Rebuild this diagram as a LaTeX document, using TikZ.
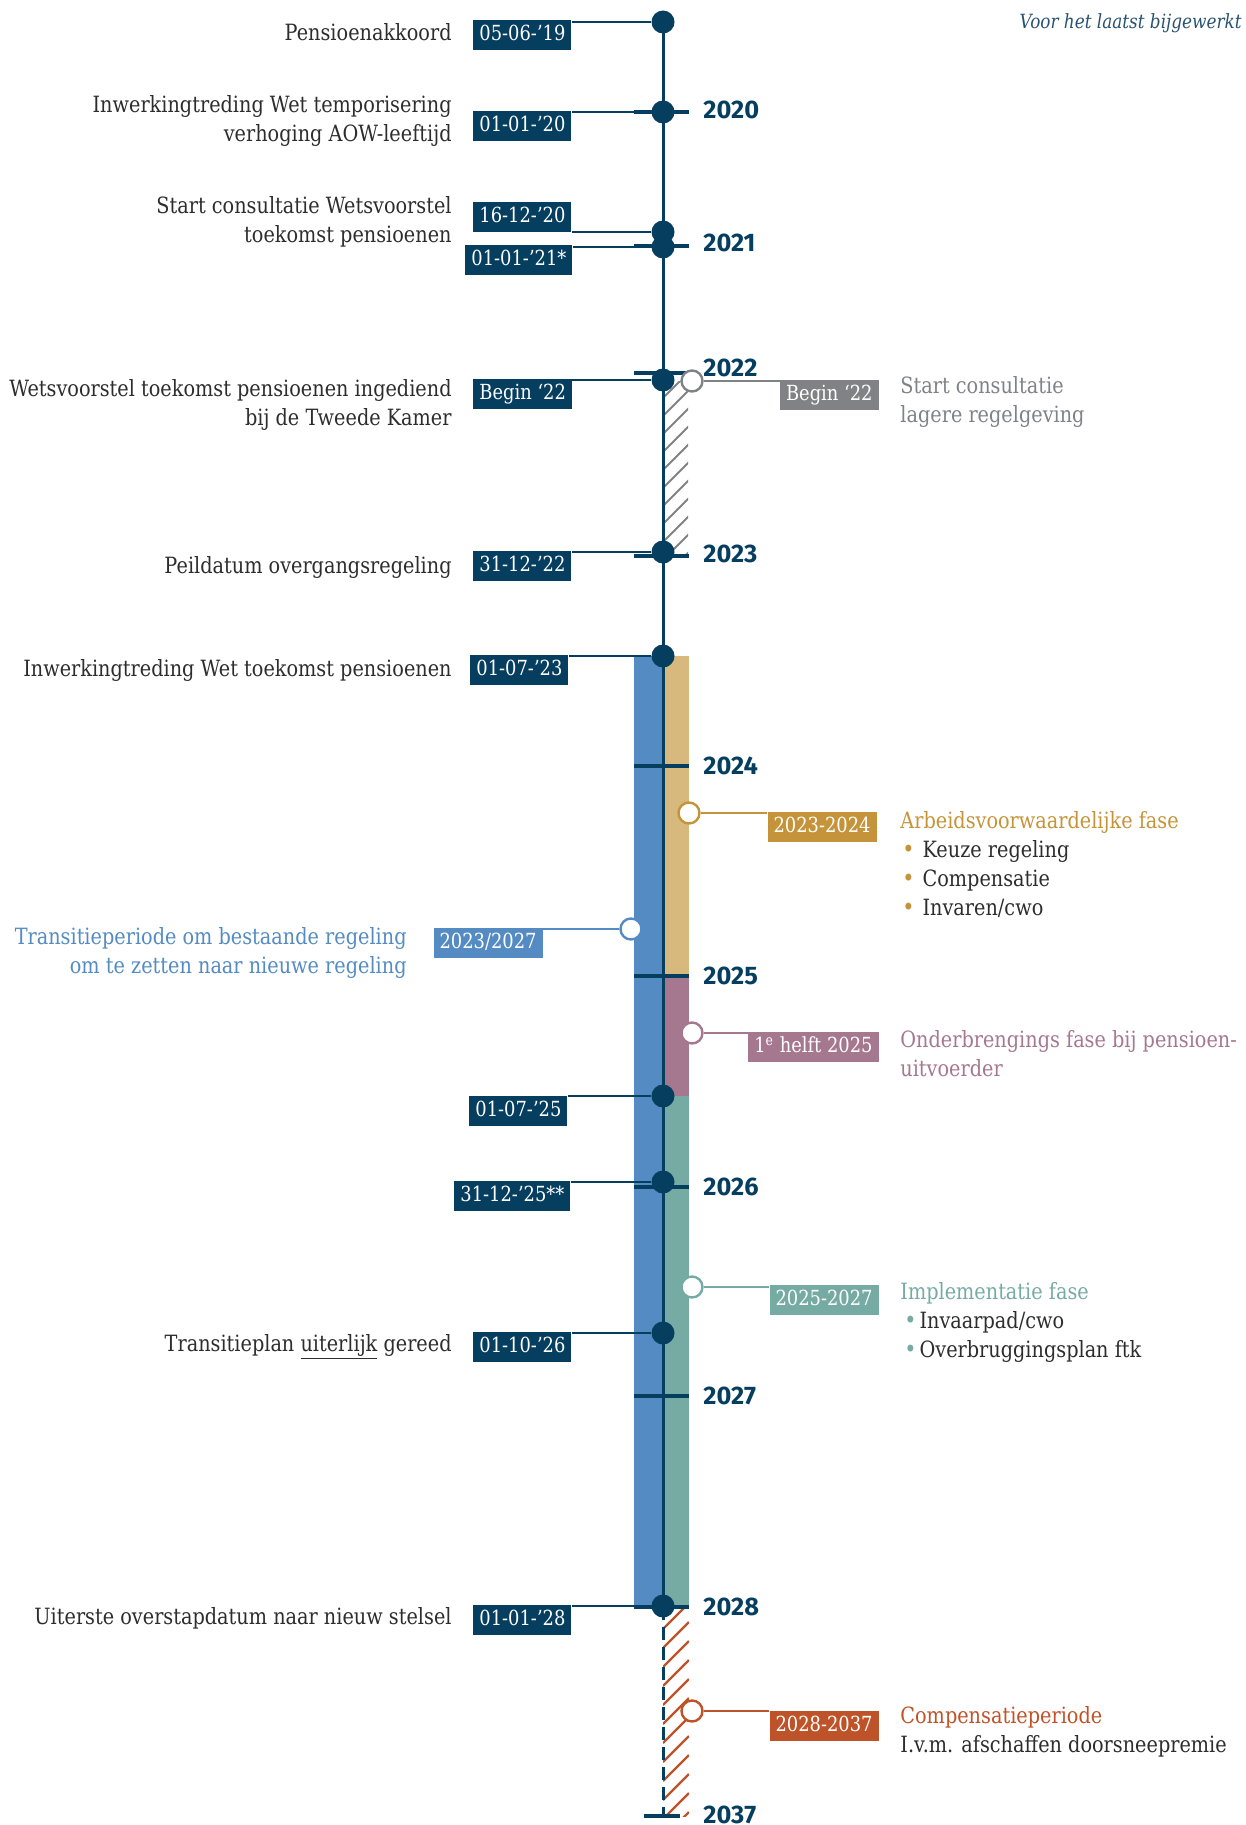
\documentclass[tikz,border=0pt]{standalone}
\usepackage{fontspec}
\setmainfont{DejaVu Serif}[FakeStretch=0.86]
\newfontfamily\yearfont{Fira Sans}
\usetikzlibrary{positioning}
\definecolor{navyblue}{RGB}{6,62,96}
\definecolor{ink}{RGB}{45,45,45}
\definecolor{stampgrey}{RGB}{128,130,133}
\definecolor{transblue}{RGB}{84,139,194}
\definecolor{goldbar}{RGB}{215,184,125}
\definecolor{golddark}{RGB}{197,148,58}
\definecolor{mauvebar}{RGB}{166,120,143}
\definecolor{tealbar}{RGB}{118,171,164}
\definecolor{rustred}{RGB}{190,82,40}
\definecolor{updateblue}{RGB}{40,82,112}
\tikzstyle{event} = [circle, fill=navyblue, inner sep=0pt, minimum size=11.5pt]
\tikzstyle{phase} = [circle, fill=white, line width=1.2pt, inner sep=0pt, minimum size=10.5pt]
\tikzstyle{datebox} = [fill=navyblue, text=white, font=\fontsize{10.4}{12}\selectfont, inner xsep=3pt, inner ysep=2.6pt, text height=7.6pt, text depth=2.2pt, anchor=north west]
\tikzstyle{eventtext} = [anchor=east, align=right, text=ink, inner sep=0pt, font=\fontsize{11.2}{14.5}\selectfont]
\tikzstyle{phasetext} = [anchor=west, align=left, text=ink, inner sep=0pt, font=\fontsize{11.2}{14.5}\selectfont]
\tikzstyle{year} = [anchor=west, text=navyblue, inner sep=0pt, font=\yearfont\bfseries\fontsize{12.7}{14}\selectfont]
\tikzstyle{link} = [navyblue, line width=1pt]
\tikzstyle{tick} = [navyblue, line width=2pt]
\tikzstyle{axis} = [navyblue, line width=1.5pt]
\newcommand{\dotitem}[2]{\textcolor{#1}{\fontsize{12}{12}\selectfont•}\hspace{#2}}

\begin{document}
\begin{tikzpicture}[x=0.5pt, y=-0.5pt]
\useasboundingbox (0,0) rectangle (1246,1825);

% periods behind the axis
\fill[transblue] (634,656) rectangle (663,1607);
\fill[goldbar] (663,656) rectangle (689,976);
\fill[mauvebar] (663,976) rectangle (689,1096);
\fill[tealbar] (663,1096) rectangle (689,1607);
\begin{scope}
\clip (663,381) rectangle (688,553);
\foreach \k in {380,398,...,600} \draw[stampgrey, line width=1pt] (663,\k) -- ++(26,-26);
\end{scope}
\begin{scope}
\clip (663,1607) rectangle (689,1816);
\foreach \k in {1610,1629,...,1850} \draw[rustred, line width=1.2pt] (663,\k) -- ++(26,-26);
\end{scope}

% axis
\coordinate (start) at (663,22);
\coordinate (switch) at (663,1607);
\coordinate (finish) at (663,1816);
\draw[axis] (start) -- (switch);
\draw[axis, dash pattern=on 6.5pt off 3.5pt] (switch) -- (finish);

% years
\foreach \ty/\ly/\yr in {112/110/2020, 246/243/2021, 373/368/2022, 556/554/2023, 766/766/2024, 976/976/2025, 1187/1187/2026, 1396/1396/2027, 1607/1607/2028} {
  \draw[tick] (634,\ty) -- (689,\ty);
  \node[year] (y\yr) at (703,\ly) {\yr};
}
\draw[tick] (644,1816) -- (680,1816);
\node[year, anchor=north west] (y2037) at (703,1806) {2037};

% dates on the left
\node[datebox] (d1) at (473,20) {05-06-’19};
\node[datebox] (d2) at (473,111) {01-01-’20};
\node[datebox, anchor=south west] (d3) at (473,232) {16-12-’20};
\node[datebox] (d4) at (465,245) {01-01-’21*};
\node[datebox] (d5) at (473,379) {Begin ‘22};
\node[datebox] (d6) at (473,551) {31-12-’22};
\node[datebox] (d7) at (470,655) {01-07-’23};
\node[datebox] (d8) at (469,1096) {01-07-’25};
\node[datebox] (d9) at (454,1181) {31-12-’25**};
\node[datebox] (d10) at (473,1332) {01-10-’26};
\node[datebox] (d11) at (473,1605) {01-01-’28};

\node[event] (e1) at (663,22) {};
\node[event] (e2) at (663,112) {};
\node[event] (e3) at (663,232) {};
\node[event] (e4) at (663,247) {};
\node[event] (e5) at (663,380) {};
\node[event] (e6) at (663,552) {};
\node[event] (e7) at (663,656) {};
\node[event] (e8) at (663,1096) {};
\node[event] (e9) at (663,1182) {};
\node[event] (e10) at (663,1333) {};
\node[event] (e11) at (663,1606) {};
\foreach \i in {1,...,11} \draw[link] (d\i.east |- e\i) -- (e\i);

\node[eventtext] (l1) at (452,32) {Pensioenakkoord};
\node[eventtext] (l2) at (452,121) {Inwerkingtreding Wet temporisering\\verhoging AOW-leeftijd};
\node[eventtext] (l3) at (452,222) {Start consultatie Wetsvoorstel\\toekomst pensioenen};
\node[eventtext] (l5) at (452,405) {Wetsvoorstel toekomst pensioenen ingediend\\bij de Tweede Kamer};
\node[eventtext] (l6) at (452,567) {Peildatum overgangsregeling};
\node[eventtext] (l7) at (452,670) {Inwerkingtreding Wet toekomst pensioenen};
\node[eventtext] (l10) at (452,1347) {Transitieplan \underline{uiterlijk} gereed};
\node[eventtext] (l11) at (452,1618) {Uiterste overstapdatum naar nieuw stelsel};

% phases
\node[phase, draw=stampgrey] (c1) at (692,381) {};
\node[datebox, fill=stampgrey, anchor=north east] (p1) at (879,380) {Begin ‘22};
\draw[stampgrey, line width=1pt] (c1) -- (c1 -| p1.west);
\node[phasetext, text=stampgrey] (t1) at (900,402) {Start consultatie\\lagere regelgeving};

\node[phase, draw=golddark] (c2) at (689,813) {};
\node[datebox, fill=golddark, anchor=north east] (p2) at (877,812) {2023-2024};
\draw[golddark, line width=1pt] (c2) -- (c2 -| p2.west);
\node[phasetext] (t2) at (900,865) {\textcolor{golddark}{Arbeidsvoorwaardelijke fase}\\
  \hspace{1pt}\dotitem{golddark}{4pt}Keuze regeling\\
  \hspace{1pt}\dotitem{golddark}{4pt}Compensatie\\
  \hspace{1pt}\dotitem{golddark}{4pt}Invaren/cwo};

\node[phase, draw=transblue] (c3) at (631,929) {};
\node[datebox, fill=transblue, anchor=north east] (p3) at (543,928) {2023/2027};
\draw[transblue, line width=1pt] (c3) -- (c3 -| p3.east);
\node[eventtext, text=transblue] (t3) at (407,953) {Transitieperiode om bestaande regeling\\om te zetten naar nieuwe regeling};

\node[phase, draw=mauvebar] (c4) at (692,1033) {};
\node[datebox, fill=mauvebar, anchor=north east] (p4) at (879,1032) {1\textsuperscript{e} helft 2025};
\draw[mauvebar, line width=1pt] (c4) -- (c4 -| p4.west);
\node[phasetext, text=mauvebar] (t4) at (900,1054) {Onderbrengings fase bij pensioen-\\uitvoerder};

\node[phase, draw=tealbar] (c5) at (692,1287) {};
\node[datebox, fill=tealbar, anchor=north east] (p5) at (879,1285) {2025-2027};
\draw[tealbar, line width=1pt] (c5) -- (c5 -| p5.west);
\node[phasetext] (t5) at (900,1322) {\textcolor{tealbar}{Implementatie fase}\\
  \hspace{2pt}\dotitem{tealbar}{1.5pt}Invaarpad/cwo\\
  \hspace{2pt}\dotitem{tealbar}{1.5pt}Overbruggingsplan ftk};

\node[phase, draw=rustred] (c6) at (692,1711) {};
\node[datebox, fill=rustred, anchor=north east] (p6) at (879,1711) {2028-2037};
\draw[rustred, line width=1pt] (c6) -- (c6 -| p6.west);
\node[phasetext] (t6) at (900,1732) {\textcolor{rustred}{Compensatieperiode}\\I.v.m. afschaffen doorsneepremie};

\node[anchor=east, inner sep=0pt, text=updateblue, font=\itshape\fontsize{9.8}{11}\selectfont] (update) at (1242,23) {Voor het laatst bijgewerkt};
\end{tikzpicture}
\end{document}
